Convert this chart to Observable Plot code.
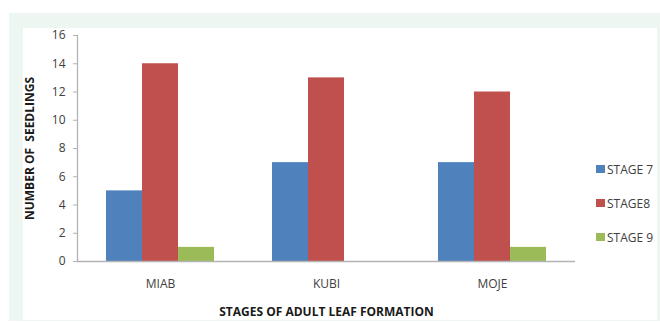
<!DOCTYPE html>
<html><head><meta charset="utf-8">
<script src="https://cdn.jsdelivr.net/npm/d3@7"></script>
<script src="https://cdn.jsdelivr.net/npm/@observablehq/plot@0.6"></script>
<style>
html,body{margin:0;padding:0;background:#fff;}
body{width:660px;height:322px;position:relative;overflow:hidden;font-family:"Open Sans",sans-serif;}
#outer{position:absolute;left:9px;top:13px;width:651px;height:308px;background:#edf6f1;}
#inner{position:absolute;left:23px;top:28px;width:634px;height:292px;background:#fff;}
#chart{position:absolute;left:0;top:0;}
#chart svg{background:transparent;}
#legend{position:absolute;left:596px;top:152px;}
#legend .sw{display:flex;align-items:center;height:34px;font-size:12px;color:#404040;}
#legend .sw i{display:inline-block;width:9px;height:8px;margin-right:2px;}
g[aria-label="y-axis label"] text, g[aria-label="fx-axis label"] text{font-weight:bold;font-size:12px;fill:#1a1a1a;}
</style></head>
<body>
<div id="outer"></div><div id="inner"></div>
<div id="chart"></div>
<div id="legend"></div>
<script>
const categories = ["MIAB", "KUBI", "MOJE"];
const series = ["STAGE 7", "STAGE8", "STAGE 9"];
const stage7 = [5, 7, 7];
const stage8 = [14, 13, 12];
const stage9 = [1, 0, 1];
const yTicks = [0, 2, 4, 6, 8, 10, 12, 14, 16];
const colors = ["#4f81bd", "#c0504d", "#9bbb59"];

const valuesBySeries = [stage7, stage8, stage9];
const data = [];
categories.forEach((c, i) => series.forEach((s, j) => data.push({cat: c, series: s, value: valuesBySeries[j][i]})));

const chart = Plot.plot({
  width: 660, height: 322,
  marginLeft: 76, marginRight: 85, marginTop: 35, marginBottom: 61,
  style: {fontFamily: "'Open Sans', sans-serif", fontSize: "12px", color: "#404040", background: "transparent"},
  fx: {domain: categories, padding: 0},
  x: {domain: series, paddingInner: 0, paddingOuter: 0.76, axis: null},
  y: {domain: [0, 16]},
  color: {domain: series, range: colors},
  marks: [
    Plot.barY(data, {fx: "cat", x: "series", y: "value", fill: "series", inset: 0}),
    Plot.ruleY([0], {stroke: "#b3b3b3", strokeWidth: 1.3}),
    Plot.frame({anchor: "left", facetAnchor: "left", stroke: "#b3b3b3", strokeWidth: 1.3}),
    Plot.axisY({ticks: yTicks, tickSize: 4, stroke: "#b3b3b3", fill: "#404040", tickPadding: 8,
      label: "NUMBER OF  SEEDLINGS", labelArrow: false, labelAnchor: "center", labelOffset: 52}),
    Plot.axisFx({anchor: "bottom", tickSize: 0, tickPadding: 18, fill: "#404040",
      label: "STAGES OF ADULT LEAF FORMATION", labelArrow: false, labelAnchor: "center", labelOffset: 54})
  ]
});
document.getElementById("chart").appendChild(chart);

const lg = document.getElementById("legend");
series.forEach((s, j) => {
  const d = document.createElement("div"); d.className = "sw";
  const i = document.createElement("i"); i.style.background = colors[j];
  d.appendChild(i); d.appendChild(document.createTextNode(s));
  lg.appendChild(d);
});
</script>
</body></html>
